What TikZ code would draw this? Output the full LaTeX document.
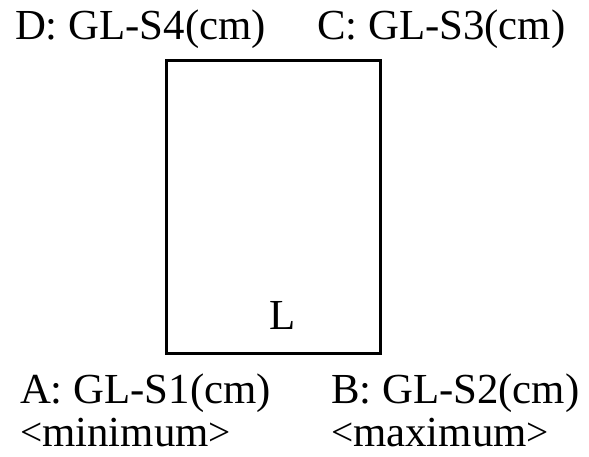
\documentclass[tikz,border=0pt]{standalone}
\usepackage{graphicx}
\usepackage{fontspec}
\setmainfont{Liberation Serif}
\newcommand{\ltsym}{\raisebox{1pt}{\scalebox{0.92}{\textless}}}
\newcommand{\gtsym}{\raisebox{1pt}{\scalebox{0.92}{\textgreater}}}
\begin{document}
\begin{tikzpicture}[x=1pt,y=-1pt,
  lbl/.style={anchor=base west,inner sep=0pt,outer sep=0pt,font=\fontsize{42.8}{42}\selectfont},
  boxstyle/.style={draw=black,line width=3pt,inner sep=0pt,minimum width=214pt,minimum height=292.5pt}]
\useasboundingbox (0,0) rectangle (589,457);
\node[boxstyle] (box) at (273,206.75) {};
\node[lbl] (D) at (15,40) {D: GL-S4(cm)};
\node[lbl] (C) at (317,40) {C: GL-S3(cm)};
\node[lbl] (L) at (269,329) {L};
\node[lbl] (A) at (20,403) {A: GL-S1(cm)};
\node[lbl] (Amin) at (20,446) {\ltsym minimum\gtsym};
\node[lbl] (B) at (331,403) {B: GL-S2(cm)};
\node[lbl] (Bmax) at (331,446) {\ltsym maximum\gtsym};
\end{tikzpicture}
\end{document}
